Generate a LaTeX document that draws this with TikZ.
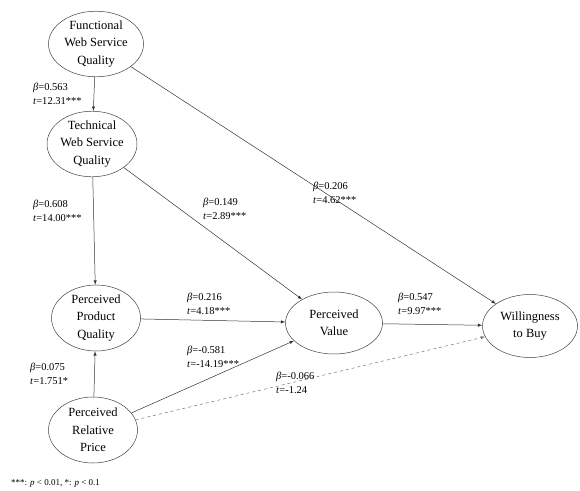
\documentclass[tikz,border=0pt]{standalone}
\usepackage{fontspec}
\setmainfont{Liberation Serif}
\usepackage{tikz}
\usetikzlibrary{arrows,shapes,positioning}

\tikzset{
  latent/.style={ellipse, draw=black!75, line width=0.5pt, align=center,
    inner sep=0pt, font=\fontsize{12.5}{17.5}\selectfont},
  path/.style={-latex, draw=black!80, line width=0.5pt},
  coef/.style={anchor=west, align=left, inner sep=0pt,
    font=\fontsize{10.5}{13.5}\selectfont}
}
\newcommand{\bt}[2]{\textit{β}=#1\\\textit{t}=#2}

\begin{document}
\begin{tikzpicture}[x=1pt, y=-1pt]
        \useasboundingbox (0, 0) rectangle (580, 490);

        %%constructs
        \node[latent, minimum width=95, minimum height=60] (fwsq) at (96, 44)
            {Functional\\Web Service\\Quality};
        \node[latent, minimum width=90, minimum height=58] (twsq) at (92, 144)
            {Technical\\Web Service\\Quality};
        \node[latent, minimum width=89, minimum height=66] (ppq) at (96, 318)
            {Perceived\\Product\\Quality};
        \node[latent, minimum width=89, minimum height=66] (prp) at (93, 430)
            {Perceived\\Relative\\Price};
        \node[latent, minimum width=97, minimum height=62] (pv) at (334, 323)
            {Perceived\\Value};
        \node[latent, minimum width=95, minimum height=63] (wtb) at (530, 326)
            {Willingness\\to Buy};

        %%paths
        \draw[path] (fwsq) to (twsq);
        \draw[path] (fwsq) to (wtb);
        \draw[path] (twsq) to (ppq);
        \draw[path] (twsq) to (pv);
        \draw[path] (ppq) to (pv);
        \draw[path] (pv) to (wtb);
        \draw[path] (prp) to (ppq);
        \draw[path] (prp) to (pv);
        \draw[path, dashed, draw=black!55] (prp) to (wtb);

        %%coefficients
        \node[coef] (c1) at (33, 94) {\bt{0.563}{12.31***}};
        \node[coef] (c2) at (313, 193) {\bt{0.206}{4.62***}};
        \node[coef] (c3) at (33, 211) {\bt{0.608}{14.00***}};
        \node[coef] (c4) at (203, 209) {\bt{0.149}{2.89***}};
        \node[coef] (c5) at (187, 304) {\bt{0.216}{4.18***}};
        \node[coef] (c6) at (398, 304) {\bt{0.547}{9.97***}};
        \node[coef] (c7) at (187, 357) {\bt{-0.581}{-14.19***}};
        \node[coef] (c8) at (30, 374) {\bt{0.075}{1.751*}};
        \node[coef] (c9) at (276, 383) {\bt{-0.066}{-1.24}};

        %%note
        \node[coef, font=\fontsize{9}{11}\selectfont] (note) at (11, 483)
            {***: \textit{p} < 0.01, *: \textit{p} < 0.1};
\end{tikzpicture}
\end{document}
